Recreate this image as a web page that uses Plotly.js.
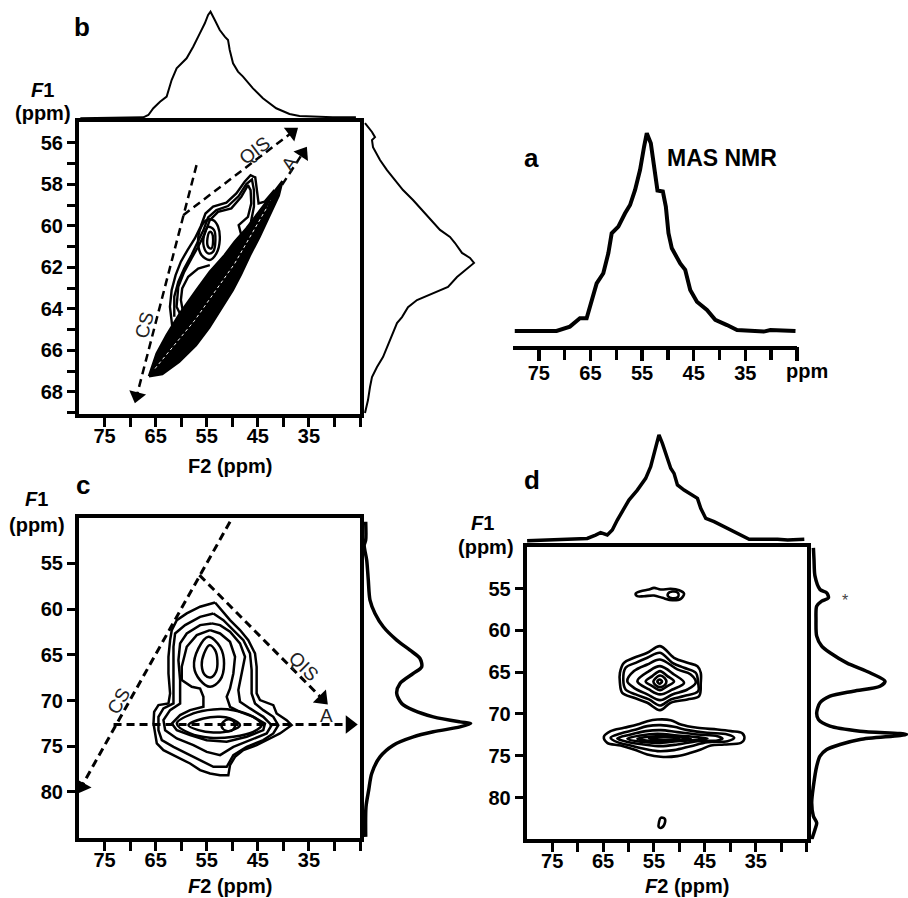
<!DOCTYPE html>
<html><head><meta charset="utf-8">
<script src="https://cdn.plot.ly/plotly-3.0.1.min.js"></script>
<style>html,body{margin:0;padding:0;background:#fff;} #chart{width:908px;height:898px;}</style>
</head><body><div id="chart"></div>
<script>
// ---------- tick values ----------
const ticksF2 = [75, 65, 55, 45, 35];
const allF2 = [75, 70, 65, 60, 55, 50, 45, 40, 35, 30, 25];
const minorF2a = [70, 60, 50, 40, 30];
const ticksF1b = [56, 58, 60, 62, 64, 66, 68];
const minorF1b = [57, 59, 61, 63, 65, 67, 69];
const ticksF1cd = [55, 60, 65, 70, 75, 80];

// ---------- 1D spectra ----------
// a: MAS NMR
const F2_a = [79.66, 71.57, 68.98, 67.04, 65.74, 64.77, 63.80, 62.51, 61.54, 60.89, 59.60, 58.30, 57.33, 56.36, 55.39, 54.61, 54.09, 53.31, 52.67, 52.02, 50.98, 50.40, 49.89, 49.24, 47.62, 46.65, 45.68, 44.38, 42.44, 40.83, 38.55, 36.61, 31.45, 30.15, 25.29];
const I_a = [0, 0, 2.2, 6.4, 6.4, 15.7, 24.1, 29.2, 39.3, 49.4, 52.8, 59.5, 63.7, 71.3, 81.5, 93.3, 100, 94.9, 83.1, 71.0, 70.5, 62.9, 49.4, 41.8, 34.2, 30.9, 20.7, 14.8, 10.6, 5.6, 3.0, 0.5, -0.3, 0.5, 0];
// b projections
const F2_bTop = [79.74, 67.40, 66.42, 65.45, 64.14, 62.84, 61.87, 60.89, 58.94, 57.65, 56.35, 55.37, 54.73, 54.26, 53.42, 52.45, 51.47, 50.83, 50.50, 49.85, 48.88, 47.90, 45.95, 44.01, 41.40, 38.80, 36.85, 30.36, 25.80];
const I_bTop = [0, 0.9, 3.1, 9.4, 15.6, 20.3, 35.9, 46.9, 56.3, 67.2, 79.7, 89.1, 96.9, 100, 92.2, 82.8, 76.6, 73.4, 64.1, 51.6, 43.8, 39.1, 28.1, 18.8, 9.4, 4.1, 2.2, 0.9, 0.9];
const F1_bRight = [55.05, 55.24, 55.48, 55.73, 55.87, 56.21, 56.83, 57.32, 57.80, 58.28, 58.76, 59.24, 59.72, 60.20, 60.54, 60.83, 61.31, 61.55, 61.79, 62.04, 62.23, 62.47, 62.95, 63.24, 63.58, 63.92, 64.40, 64.69, 65.17, 65.85, 66.33, 66.81, 67.29, 67.77, 68.40, 69.02];
const I_bRight = [0, 3, 7, 10, 7, 8, 15, 22, 30, 38, 48, 57, 65, 75, 85, 90, 97, 105, 109, 103, 98, 92, 83, 68, 52, 43, 37, 32, 28, 22, 18, 12, 7, 5, 3, 0];
// c projection
const F1_cRight = [50.45, 52.45, 53.0, 54.64, 56.83, 59.02, 60.47, 61.93, 63.39, 64.49, 65.40, 66.31, 67.04, 68.13, 69.22, 70.32, 71.05, 71.78, 72.33, 72.50, 72.88, 73.42, 73.97, 74.88, 76.16, 77.98, 79.80, 81.63, 84.91];
const I_cRight = [0, 0, -1.5, 1, 2.6, 4.3, 9.3, 17.6, 31, 44.3, 54.3, 56, 47.6, 34.3, 31, 36, 47.6, 67.6, 94.3, 105, 94.3, 67.6, 47.6, 27.6, 14.3, 6, 3, 0.3, 0];
// d projections
const F2_dTop = [79.92, 68.11, 66.48, 65.49, 64.17, 63.19, 62.20, 60.90, 59.92, 58.27, 56.63, 55.65, 55.00, 54.33, 54.02, 53.35, 52.36, 51.71, 51.06, 50.39, 49.09, 47.44, 46.46, 45.81, 44.82, 43.19, 41.22, 39.25, 37.28, 36.30, 30.71, 28.74, 25.47];
const I_dTop = [0, 2.2, 5.4, 7.6, 5.4, 10.1, 19.6, 30.6, 38.5, 47.9, 59.0, 70.0, 82.6, 95.3, 100, 92.1, 76.3, 68.5, 63.7, 52.7, 47.9, 43.2, 40.1, 30.6, 21.1, 18.0, 13.2, 8.5, 3.8, 1.3, 1.3, 0.6, 1.3];
const F1_dRight = [50.13, 51.53, 53.53, 55.12, 55.52, 56.12, 56.51, 57.11, 58.71, 60.70, 61.90, 62.69, 63.89, 65.08, 66.09, 66.69, 67.28, 67.88, 68.67, 69.87, 70.67, 71.47, 72.07, 72.46, 73.06, 73.66, 74.26, 75.06, 76.26, 78.65, 80.63, 82.24, 83.03, 83.83, 85.02];
const I_dRight = [1.7, 2.3, 3.3, 8.3, 15, 16.7, 10, 5, 4.3, 5, 10, 18.3, 35, 58.3, 73.3, 68.3, 41.7, 18.3, 8.3, 5, 6.7, 18.3, 48.3, 95, 48.3, 28.3, 15, 8.3, 5, 1.7, 0, 1.7, 5, 3.3, 0];

// ---------- contours, [F2, F1] pairs ----------
// panel b
const bRidge = [[66.30,67.25],[64.80,66.15],[62.85,65.27],[60.25,64.22],[57.00,63.10],[54.40,62.22],[51.48,61.41],[49.53,60.77],[47.25,60.13],[44.98,59.41],[42.71,58.68],[40.20,57.85],[40.90,58.55],[42.80,59.55],[44.70,60.55],[46.60,61.45],[48.30,62.35],[49.90,63.10],[51.90,63.90],[54.50,64.90],[57.10,65.75],[60.40,66.55],[63.70,67.15]];
const bRidgeInner = [[65.12,66.88],[57.33,64.55],[49.53,61.82],[42.38,58.76]];
const bOuter1 = [[61.22,65.67],[61.74,64.87],[62.20,63.90],[61.87,63.10],[61.09,62.38],[60.06,61.73],[58.76,61.17],[57.33,60.61],[56.16,60.02],[55.25,59.41],[53.75,59.08],[51.15,58.89],[49.20,58.44],[47.58,57.88],[46.41,57.56],[45.50,57.67],[45.18,58.28],[44.85,58.92],[43.68,58.84],[41.73,58.28]];
const bOuter2 = [[61.35,64.39],[61.35,63.42],[60.57,62.70],[59.41,62.06],[57.98,61.41],[56.68,60.77],[55.64,60.21],[54.73,59.60],[53.10,59.24],[50.83,59.05],[48.75,58.57],[47.25,57.99],[46.15,57.77],[45.76,58.28],[45.76,59.08],[46.28,59.73],[46.60,60.21],[45.63,60.37]];
const bOuter3 = [[59.60,64.55],[60.90,63.90],[60.57,62.94],[59.41,62.22],[57.98,61.57],[56.68,61.01],[55.38,60.37],[54.40,59.73],[52.78,59.33],[50.18,59.16],[48.23,58.60],[46.93,58.04],[46.41,58.28],[46.28,58.92],[46.93,59.57],[48.75,59.97],[48.23,60.45]];
const bLobe = [[54.40,61.90],[56.68,62.06],[58.63,62.46],[59.80,63.02],[60.06,63.58],[59.60,64.22]];
const bOval1 = [[55.05,59.73],[56.35,60.21],[56.68,60.85],[56.03,61.41],[54.40,61.65],[53.10,61.33],[52.45,60.69],[52.78,60.05],[53.75,59.73]];
const bOval2 = [[54.73,60.05],[55.51,60.45],[55.57,61.01],[54.73,61.33],[53.75,61.25],[53.30,60.69],[53.56,60.21]];
const bOval3 = [[54.40,60.29],[54.86,60.61],[54.73,61.01],[54.08,61.09],[53.75,60.69],[53.95,60.37]];
// panel c
const cO1 = [[53.37,59.27],[56.30,59.74],[58.91,60.47],[60.86,61.20],[61.84,62.29],[62.17,63.39],[62.49,65.21],[62.49,67.04],[62.17,69.22],[62.49,70.32],[64.45,70.50],[65.29,71.23],[65.42,72.51],[65.10,73.60],[64.77,74.69],[63.47,75.42],[60.86,76.15],[58.26,76.88],[56.30,77.61],[54.35,77.98],[52.39,78.16],[50.77,78.16],[50.44,77.06],[49.46,76.15],[47.83,75.42],[45.23,74.88],[42.62,74.15],[40.67,73.60],[38.39,72.69],[39.36,72.14],[41.32,71.41],[41.97,70.50],[44.58,69.95],[45.23,69.22],[45.23,66.31],[45.55,64.85],[46.86,63.39],[48.49,62.29],[50.44,61.20],[52.07,60.11]];
const cO2 = [[53.70,60.47],[56.30,60.84],[59.23,61.75],[61.19,62.66],[61.51,64.12],[61.51,67.04],[61.64,69.22],[61.51,70.32],[63.47,70.86],[64.45,71.78],[64.45,73.24],[63.79,74.33],[61.51,75.06],[58.91,75.79],[56.30,76.52],[53.70,77.25],[51.09,77.25],[49.79,75.97],[47.18,75.06],[43.93,74.33],[41.97,73.60],[40.99,72.69],[41.97,71.78],[43.93,71.05],[45.55,70.32],[46.21,69.22],[46.21,66.67],[46.53,64.85],[47.83,63.39],[49.79,62.29],[51.74,61.20]];
const cO3 = [[54.02,61.56],[56.30,61.75],[58.91,62.66],[60.21,63.75],[60.54,65.58],[60.21,67.76],[60.21,70.32],[62.17,71.05],[63.47,72.14],[63.14,73.24],[60.86,74.15],[57.61,74.88],[55.00,75.61],[52.39,75.97],[49.79,75.06],[46.53,74.33],[43.27,73.60],[42.30,72.69],[43.93,71.78],[46.53,70.86],[48.49,70.13],[48.81,68.86],[48.16,67.04],[47.51,65.21],[48.49,63.75],[50.44,62.48],[52.39,61.75]];
const cO4 = [[54.35,62.29],[56.95,62.84],[58.91,64.12],[59.89,66.31],[59.89,67.76],[57.93,68.49],[56.30,68.68],[55.65,69.59],[55.65,70.68],[58.26,71.05],[60.21,71.59],[61.84,72.51],[60.86,73.24],[58.26,73.78],[55.00,74.33],[51.09,74.51],[47.18,73.96],[43.93,73.24],[43.60,72.51],[45.88,71.78],[48.49,71.23],[50.44,70.68],[51.09,69.59],[50.44,68.68],[49.79,67.04],[49.46,65.21],[50.44,63.57],[52.39,62.66]];
const cU2 = [[54.67,63.02],[56.63,64.30],[57.48,66.31],[56.30,67.76],[54.35,68.49],[52.39,67.76],[51.61,65.94],[52.39,64.12]];
const cU1 = [[54.48,63.94],[55.52,64.85],[55.98,66.12],[55.33,67.22],[54.22,67.47],[53.18,66.85],[52.92,65.58],[53.37,64.48]];
const cL3 = [[60.86,72.51],[57.61,71.41],[53.70,70.97],[49.79,71.05],[45.88,71.78],[44.25,72.69],[45.88,73.42],[49.79,73.96],[54.35,74.07],[58.26,73.60]];
const cL2 = [[58.58,72.69],[55.65,71.96],[52.39,71.78],[50.44,71.96],[48.49,72.69],[50.44,73.31],[53.70,73.49],[56.63,73.24]];
const cL1 = [[51.74,72.32],[50.44,72.07],[49.46,72.51],[49.79,73.16],[51.09,73.34],[52.07,72.87]];
// panel d
const dD1 = [[53.81,61.89],[56.30,62.69],[58.93,63.29],[60.90,63.89],[61.69,65.08],[61.69,66.28],[61.23,67.48],[58.93,68.07],[56.30,68.67],[53.81,69.55],[51.71,68.67],[48.43,68.27],[46.13,67.87],[45.81,66.28],[45.81,65.08],[46.46,64.29],[48.43,63.89],[51.06,63.29]];
const dD2 = [[53.81,62.69],[56.30,63.29],[58.60,63.89],[60.57,64.48],[61.03,65.88],[60.57,67.08],[58.60,67.67],[55.98,68.27],[53.81,68.99],[51.71,68.27],[49.09,67.87],[46.33,67.28],[46.33,66.28],[46.79,65.08],[49.09,64.48],[51.38,63.89]];
const dD3 = [[53.81,63.49],[56.30,64.09],[58.93,64.88],[60.24,66.08],[58.93,66.88],[56.30,67.67],[53.81,68.35],[51.38,67.67],[48.43,67.08],[46.79,66.28],[47.78,65.28],[50.40,64.68]];
const dD4 = [[53.81,64.29],[55.98,64.88],[58.27,66.08],[55.98,67.08],[53.81,67.67],[51.38,67.08],[49.09,66.28],[51.06,65.28]];
const dD5 = [[53.81,64.88],[55.32,65.48],[56.63,66.12],[55.32,66.68],[53.81,67.16],[52.37,66.68],[51.06,66.12],[52.37,65.48]];
const dD6 = [[53.81,65.40],[54.80,65.80],[55.12,66.16],[54.67,66.56],[53.81,66.80],[52.89,66.56],[52.56,66.16],[52.89,65.72]];
const dD7 = [[53.88,65.88],[54.34,66.12],[53.88,66.40],[53.42,66.12]];
const dE1 = [[64.84,72.74],[63.52,72.06],[60.90,71.66],[58.27,71.27],[56.31,70.87],[54.34,70.67],[51.71,70.75],[49.74,71.27],[46.46,71.66],[42.53,71.86],[39.90,72.06],[37.60,72.34],[37.28,73.06],[37.93,73.46],[41.21,73.66],[43.84,73.78],[45.81,74.26],[47.78,74.65],[50.40,75.05],[53.68,75.13],[56.31,74.85],[58.93,74.26],[61.55,73.78],[64.18,73.46]];
const dE2 = [[63.52,72.86],[61.55,72.34],[58.93,71.94],[56.31,71.46],[53.68,71.34],[51.06,71.54],[48.43,71.94],[44.49,72.26],[40.56,72.46],[39.24,72.86],[40.56,73.26],[44.49,73.38],[47.78,73.86],[51.06,74.33],[54.34,74.45],[56.96,74.18],[59.59,73.78],[62.21,73.38]];
const dE3 = [[62.21,72.94],[59.59,72.46],[56.63,72.06],[53.68,71.94],[50.40,72.18],[46.46,72.46],[42.53,72.66],[41.54,72.94],[42.53,73.18],[46.46,73.26],[50.40,73.66],[53.68,73.86],[56.96,73.66],[59.91,73.38]];
const dE4 = [[60.24,72.98],[57.62,72.58],[54.34,72.38],[50.40,72.58],[46.46,72.78],[44.49,72.94],[46.46,73.10],[50.40,73.26],[54.34,73.46],[57.62,73.34]];
const dE5 = [[58.27,72.98],[55.65,72.70],[52.37,72.66],[49.09,72.86],[47.78,72.98],[49.09,73.10],[52.37,73.22],[55.65,73.26]];
const dE6 = [[55.98,72.94],[53.68,72.78],[51.06,72.86],[50.07,72.98],[51.06,73.10],[53.68,73.14]];
const dS1 = [[58.60,55.60],[57.62,55.32],[55.98,55.12],[54.99,54.92],[53.68,55.12],[51.71,55.04],[50.07,55.20],[49.09,55.60],[49.74,56.24],[51.38,56.40],[53.35,56.12],[54.99,55.84],[56.96,55.92],[58.27,55.92]];
const dS2 = [[52.24,55.60],[51.38,55.36],[50.27,55.52],[50.27,56.00],[51.38,56.16],[52.24,55.92]];
const dB1 = [[53.68,82.43],[52.89,82.55],[52.89,83.11],[53.55,83.63],[54.07,83.51],[54.01,82.95]];

// ---------- dashed guide arrows [start, end] ----------
const bCS_F2 = [57.0, 68.7], bCS_F1 = [57.08, 68.2];
const bQIS_F2 = [59.6, 38.3], bQIS_F1 = [59.49, 55.5];
const bA_F2 = [43.03, 36.2], bA_F1 = [59.08, 56.5];
const cCS_F2 = [50.44, 79.5], cCS_F1 = [50.44, 79.4];
const cQIS_F2 = [56.43, 32.4], cQIS_F1 = [56.28, 69.8];
const cA_F2 = [73.24, 27.0], cA_F1 = [72.61, 72.61];

// ---------- helpers ----------
const FONT = 'Liberation Sans, Arial, Helvetica, sans-serif';
function ring(pts, xa, ya, o) {
  o = o || {};
  const x = pts.map(p => p[0]), y = pts.map(p => p[1]);
  if (o.closed !== false) { x.push(pts[0][0]); y.push(pts[0][1]); }
  const t = {type: 'scatter', mode: 'lines', x, y, xaxis: xa, yaxis: ya, hoverinfo: 'skip',
    line: {color: o.color || 'black', width: o.width || 2, shape: o.spline ? 'spline' : 'linear', smoothing: 1, dash: o.dash || 'solid'}};
  if (o.fill) { t.fill = 'toself'; t.fillcolor = o.fill; }
  return t;
}
function spec(x, y, xa, ya, w, spline) {
  return {type: 'scatter', mode: 'lines', x, y, xaxis: xa, yaxis: ya, hoverinfo: 'skip',
    line: {color: 'black', width: w, shape: spline ? 'spline' : 'linear', smoothing: 0.8}};
}
function arrow(xs, ys, xa, ya, w, size) {
  return {type: 'scatter', mode: 'lines+markers', x: xs, y: ys, xaxis: xa, yaxis: ya, hoverinfo: 'skip',
    line: {color: 'black', width: w, dash: '8px,5px'},
    marker: {symbol: 'triangle-up', size: [0, size], color: '#000', opacity: 1, angleref: 'previous', line: {width: 0}}};
}

const traces = [];
// panel b
traces.push(spec(F2_bTop, I_bTop, 'x2', 'y2', 2, false));
traces.push(spec(I_bRight, F1_bRight, 'x3', 'y3', 2, false));
[bOuter1, bOuter2, bOuter3, bLobe].forEach(c => traces.push(ring(c, 'x', 'y', {closed: false, width: 2.4})));
[bOval1, bOval2, bOval3].forEach(c => traces.push(ring(c, 'x', 'y', {width: 2.4, spline: true})));
traces.push(ring(bRidge, 'x', 'y', {width: 2.5, fill: 'black'}));
traces.push(ring(bRidgeInner, 'x', 'y', {closed: false, width: 1, color: 'white', dash: 'dot'}));
traces.push(arrow(bCS_F2, bCS_F1, 'x', 'y', 2.5, 15));
traces.push(arrow(bQIS_F2, bQIS_F1, 'x', 'y', 2.5, 15));
traces.push(arrow(bA_F2, bA_F1, 'x', 'y', 2.5, 15));
// panel a
traces.push(spec(F2_a, I_a, 'x4', 'y4', 4, false));
traces.push({type: 'scatter', mode: 'markers', x: [25], y: [0], xaxis: 'x10', yaxis: 'y4', marker: {opacity: 0}, hoverinfo: 'skip'});
// panel c
[cO1, cO2, cO3, cO4].forEach(c => traces.push(ring(c, 'x5', 'y5', {width: 2.5})));
[cU2, cU1, cL3, cL2, cL1].forEach(c => traces.push(ring(c, 'x5', 'y5', {width: 2.5, spline: true})));
traces.push(arrow(cCS_F2, cCS_F1, 'x5', 'y5', 3, 16));
traces.push(arrow(cQIS_F2, cQIS_F1, 'x5', 'y5', 3, 16));
traces.push(arrow(cA_F2, cA_F1, 'x5', 'y5', 3, 16));
traces.push(spec(I_cRight, F1_cRight, 'x6', 'y6', 3.5, true));
// panel d
[dD1, dD2, dD3, dD4, dD5, dD6, dD7, dE1, dE2, dE3, dE4, dE5, dE6, dS1, dS2, dB1].forEach(c => traces.push(ring(c, 'x7', 'y7', {width: 2.6, spline: true})));
traces.push(spec(F2_dTop, I_dTop, 'x8', 'y8', 3.5, false));
traces.push(spec(I_dRight, F1_dRight, 'x9', 'y9', 3.5, true));

// ---------- layout ----------
const W = 908, H = 898;
const dx = (a, b) => [a / W, b / W];
const dy = (top, bot) => [1 - bot / H, 1 - top / H];
const tickFont = {family: FONT, size: 20, color: 'black', weight: 'bold'};
// labelled ticks are drawn short; the visible ticks come from the minor set (all every 5 ppm)
function mainX(domain, anchor) {
  return {domain, anchor, range: [80, 25], showline: true, linewidth: 4, linecolor: 'black', mirror: true,
    ticks: 'outside', ticklen: 1, tickwidth: 3, tickcolor: 'black', tickmode: 'array', tickvals: ticksF2,
    ticktext: ticksF2.map(String), tickfont: tickFont, showgrid: false, zeroline: false, fixedrange: true,
    minor: {tickmode: 'array', tickvals: allF2, ticks: 'outside', ticklen: 9, tickwidth: 3, tickcolor: 'black', showgrid: false}};
}
function mainY(domain, anchor, range, tv, mv) {
  const ax = {domain, anchor, range, showline: true, linewidth: 4, linecolor: 'black', mirror: true,
    ticks: 'outside', ticklen: 8, tickwidth: 3, tickcolor: 'black', tickmode: 'array', tickvals: tv,
    ticktext: tv.map(String), tickfont: tickFont, showgrid: false, zeroline: false, fixedrange: true};
  if (mv) ax.minor = {tickmode: 'array', tickvals: mv, ticks: 'outside', ticklen: 8, tickwidth: 3, tickcolor: 'black', showgrid: false};
  return ax;
}
const hidden = (domain, anchor, range) => ({domain, anchor, range, visible: false, fixedrange: true, showgrid: false, zeroline: false});

const layout = {
  width: W, height: H, margin: {l: 0, r: 0, t: 0, b: 0}, showlegend: false,
  paper_bgcolor: 'white', plot_bgcolor: 'rgba(0,0,0,0)', font: {family: FONT, color: 'black'},
  xaxis: mainX(dx(79, 360), 'y'),
  yaxis: mainY(dy(122, 414), 'x', [69.07, 55], ticksF1b, minorF1b),
  xaxis2: hidden(dx(79, 360), 'y2', [80, 25]),
  yaxis2: hidden(dy(8.5, 121.5), 'x2', [-3, 103]),
  xaxis3: hidden(dx(362, 485), 'y3', [-3, 120]),
  yaxis3: hidden(dy(122, 414), 'x3', [69.07, 55]),
  xaxis4: {domain: dx(513, 797), anchor: 'y4', range: [80, 25], showline: true, linewidth: 4, linecolor: 'black',
    ticks: 'outside', ticklen: 6, tickwidth: 3.5, tickcolor: 'black', tickmode: 'array',
    tickvals: ticksF2, ticktext: ticksF2.map(String), tickfont: tickFont,
    showgrid: false, zeroline: false, fixedrange: true,
    minor: {tickmode: 'array', tickvals: minorF2a, ticks: 'outside', ticklen: 10, tickwidth: 3.5, tickcolor: 'black', showgrid: false}},
  // long major ticks of panel a (no labels)
  xaxis10: {domain: dx(513, 797), anchor: 'y4', overlaying: 'x4', range: [80, 25], showline: false,
    ticks: 'outside', ticklen: 14, tickwidth: 3.5, tickcolor: 'black', tickmode: 'array',
    tickvals: ticksF2.concat([25]), showticklabels: false, showgrid: false, zeroline: false, fixedrange: true},
  yaxis4: hidden(dy(120, 345.7), 'x4', [-7.44, 106.7]),
  xaxis5: mainX(dx(79, 360), 'y5'),
  yaxis5: mainY(dy(517.7, 837.7), 'x5', [85, 50], ticksF1cd, null),
  xaxis6: hidden(dx(362, 480), 'y6', [-3.7, 114.3]),
  yaxis6: hidden(dy(517.7, 837.7), 'x6', [85, 50]),
  xaxis7: mainX(dx(526.7, 806.7), 'y7'),
  yaxis7: mainY(dy(546.7, 839.3), 'x7', [85, 50], ticksF1cd, null),
  xaxis8: hidden(dx(526.7, 806.7), 'y8', [80, 25]),
  yaxis8: hidden(dy(429.7, 543.9), 'x8', [-3, 105]),
  xaxis9: hidden(dx(808, 908), 'y9', [-3.7, 96.3]),
  yaxis9: hidden(dy(546.7, 839.3), 'x9', [85, 50]),
  annotations: []
};
function lab(text, px, py, size, bold, extra) {
  const a = Object.assign({text, x: px / W, y: 1 - py / H, xref: 'paper', yref: 'paper', showarrow: false,
    xanchor: 'center', yanchor: 'middle', font: {family: FONT, size, color: 'black', weight: bold ? 'bold' : 'normal'}}, extra || {});
  layout.annotations.push(a);
}
lab('b', 82, 27, 26, true);
lab('<i>F</i>1', 42, 90, 20, true);
lab('(ppm)', 43, 113, 20, true);
lab('F2 (ppm)', 230, 466, 20, true);
lab('a', 531, 158, 26, true);
lab('MAS NMR', 722, 158, 23, true);
lab('ppm', 807, 371, 20, true);
lab('c', 83, 485, 26, true);
lab('<i>F</i>1', 36, 499, 20, true);
lab('(ppm)', 37, 525, 20, true);
lab('<i>F</i>2 (ppm)', 230, 886, 20, true);
lab('d', 532, 480, 26, true);
lab('<i>F</i>1', 482, 523, 20, true);
lab('(ppm)', 486, 547, 20, true);
lab('<i>F</i>2 (ppm)', 687, 886, 20, true);
lab('*', 845, 600, 16, false, {font: {family: FONT, size: 16, color: '#444'}});
// guide labels in data coordinates
function glab(text, x, y, xr, yr, ang) {
  layout.annotations.push({text, x, y, xref: xr, yref: yr, showarrow: false, textangle: ang,
    xanchor: 'center', yanchor: 'middle', font: {family: FONT, size: 19, color: '#222'}});
}
glab('QIS', 45.63, 56.35, 'x', 'y', -37);
glab('A', 38.81, 57.0, 'x', 'y', -56);
glab('CS', 67.27, 64.79, 'x', 'y', -75);
glab('QIS', 35.98, 66.31, 'x5', 'y5', 45);
glab('A', 31.55, 71.59, 'x5', 'y5', 0);
glab('CS', 72.26, 70.13, 'x5', 'y5', -60);

Plotly.newPlot('chart', traces, layout, {staticPlot: true, displayModeBar: false});
</script></body></html>
